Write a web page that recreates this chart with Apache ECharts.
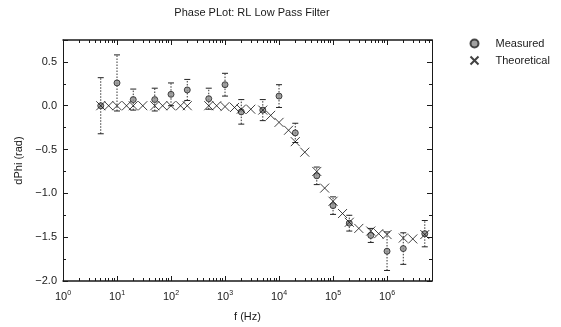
<!DOCTYPE html>
<html>
<head>
<meta charset="utf-8">
<script src="https://cdn.jsdelivr.net/npm/echarts@6/dist/echarts.min.js"></script>
<style>
  html, body { margin: 0; padding: 0; background: #fff; }
  #main { width: 561px; height: 327px; }
</style>
</head>
<body>
<div id="main"></div>
<script>
// theoretical phase curve
var thFreq = [5, 7, 10, 15, 20, 30, 50, 70, 100, 150, 200, 500, 700, 1000, 1500, 2000, 3000, 5000, 7000,
    1e4, 1.5e4, 2e4, 3e4, 5e4, 7e4, 1e5, 1.5e5, 2e5, 3e5, 5e5, 7e5, 1e6, 2e6, 3e6, 5e6];
var thPhase = [0, 0, 0, 0, 0, 0, 0, 0, 0, 0, 0, 0, 0, -0.01, -0.02, -0.04, -0.04, -0.05, -0.11,
    -0.19, -0.28, -0.41, -0.53, -0.75, -0.94, -1.09, -1.23, -1.33, -1.40, -1.43, -1.46, -1.47, -1.51, -1.52, -1.47];

// measured points with error
var measFreq = [5, 10, 20, 50, 100, 200, 500, 1000, 2000, 5000, 1e4, 2e4, 5e4, 1e5, 2e5, 5e5, 1e6, 2e6, 5e6];
var measPhase = [0.0, 0.26, 0.07, 0.07, 0.13, 0.18, 0.08, 0.24, -0.07, -0.05, 0.11, -0.31, -0.80, -1.14, -1.34, -1.48, -1.66, -1.63, -1.46];
var measErr = [0.32, 0.32, 0.12, 0.13, 0.13, 0.12, 0.12, 0.13, 0.14, 0.12, 0.13, 0.11, 0.10, 0.10, 0.09, 0.08, 0.22, 0.18, 0.15];

var yTicks = [-2.0, -1.5, -1.0, -0.5, 0.0, 0.5];

var myChart = echarts.init(document.getElementById('main'));
var font = 'Liberation Sans, Arial, sans-serif';
var ink = '#1a1a1a';

var errData = measFreq.map(function (f, i) {
    return [f, measPhase[i] - measErr[i], measPhase[i] + measErr[i]];
});

var xCommon = {
    type: 'log',
    logBase: 10,
    min: 1,
    max: 6.8e6,
    axisLine: { show: true, onZero: false, lineStyle: { color: ink, width: 1.5 } },
    axisTick: { show: true, inside: true, length: 5, lineStyle: { color: ink } },
    minorTick: { show: true, splitNumber: 9, length: 3, lineStyle: { color: ink } },
    splitLine: { show: false },
    minorSplitLine: { show: false }
};

var yCommon = {
    type: 'value',
    min: -2,
    max: 0.75,
    interval: 0.5,
    axisLine: { show: true, onZero: false, lineStyle: { color: ink, width: 1 } },
    axisTick: { show: true, inside: true, length: 5, lineStyle: { color: ink } },
    minorTick: { show: true, splitNumber: 2, length: 3, lineStyle: { color: ink } },
    splitLine: { show: false }
};

var option = {
    backgroundColor: '#fff',
    animation: false,
    title: {
        text: 'Phase PLot: RL Low Pass Filter',
        left: 247,
        top: 2,
        textAlign: 'center',
        textStyle: { fontFamily: font, fontSize: 11, fontWeight: 'normal', color: ink }
    },
    legend: {
        orient: 'vertical',
        left: 463,
        top: 33,
        itemWidth: 8,
        itemHeight: 8,
        itemGap: 5,
        data: ['Measured', 'Theoretical'],
        textStyle: { fontFamily: font, fontSize: 11, color: ink, padding: [0, 0, 0, 12] }
    },
    grid: { left: 63, right: 129, top: 40, bottom: 39 },
    xAxis: [
        echarts.util.merge({
            position: 'bottom',
            name: 'f (Hz)',
            nameLocation: 'middle',
            nameGap: 30,
            nameTextStyle: { fontFamily: font, fontSize: 11, color: ink },
            axisLabel: {
                show: true,
                margin: 9,
                showMaxLabel: false,
                formatter: function (v) {
                    var p = Math.round(Math.log(v) / Math.LN10);
                    if (Math.abs(Math.pow(10, p) - v) > 1e-6 * v) { return ''; }
                    return '{b|10}{s|' + p + '}';
                },
                rich: {
                    b: { fontFamily: font, fontSize: 11, color: ink },
                    s: { fontFamily: font, fontSize: 7, color: ink, verticalAlign: 'top', padding: [0, 0, 6, 0] }
                }
            }
        }, xCommon, true),
        echarts.util.merge({
            position: 'top',
            axisLabel: { show: false }
        }, xCommon, true)
    ],
    yAxis: [
        echarts.util.merge({
            position: 'left',
            name: 'dPhi (rad)',
            nameLocation: 'middle',
            nameGap: 33,
            nameTextStyle: { fontFamily: font, fontSize: 11, color: ink },
            axisLabel: {
                margin: 6,
                fontFamily: font,
                fontSize: 11,
                color: ink,
                formatter: function (v) {
                    for (var i = 0; i < yTicks.length; i++) {
                        if (Math.abs(yTicks[i] - v) < 1e-6) {
                            return (v < 0 ? '\u2212' : '') + Math.abs(v).toFixed(1);
                        }
                    }
                    return '';
                }
            }
        }, yCommon, true),
        echarts.util.merge({
            position: 'right',
            axisLabel: { show: false }
        }, yCommon, true)
    ],
    series: [
        {
            name: 'err',
            type: 'custom',
            xAxisIndex: 0,
            yAxisIndex: 0,
            data: errData,
            renderItem: function (params, api) {
                var lo = api.coord([api.value(0), api.value(1)]);
                var hi = api.coord([api.value(0), api.value(2)]);
                var w = 3;
                var st = { stroke: '#222', lineWidth: 1 };
                return {
                    type: 'group',
                    children: [
                        { type: 'line', shape: { x1: lo[0], y1: lo[1], x2: hi[0], y2: hi[1] },
                          style: { stroke: '#333', lineWidth: 1, lineDash: [1.5, 1.5] } },
                        { type: 'line', shape: { x1: lo[0] - w, y1: lo[1], x2: lo[0] + w, y2: lo[1] }, style: st },
                        { type: 'line', shape: { x1: hi[0] - w, y1: hi[1], x2: hi[0] + w, y2: hi[1] }, style: st }
                    ]
                };
            },
            silent: true,
            z: 1
        },
        {
            name: 'Measured',
            type: 'scatter',
            data: measFreq.map(function (f, i) { return [f, measPhase[i]]; }),
            symbol: 'circle',
            symbolSize: 6,
            itemStyle: { color: '#8a8a8a', borderColor: '#222', borderWidth: 1 },
            z: 3
        },
        {
            name: 'Theoretical',
            type: 'scatter',
            data: thFreq.map(function (f, i) { return [f, thPhase[i]]; }),
            symbol: 'path://M0,0L10,10M10,0L0,10',
            symbolSize: 9,
            itemStyle: { color: 'none', borderColor: '#111', borderWidth: 1 },
            z: 4
        }
    ]
};

myChart.setOption(option);
</script>
</body>
</html>
